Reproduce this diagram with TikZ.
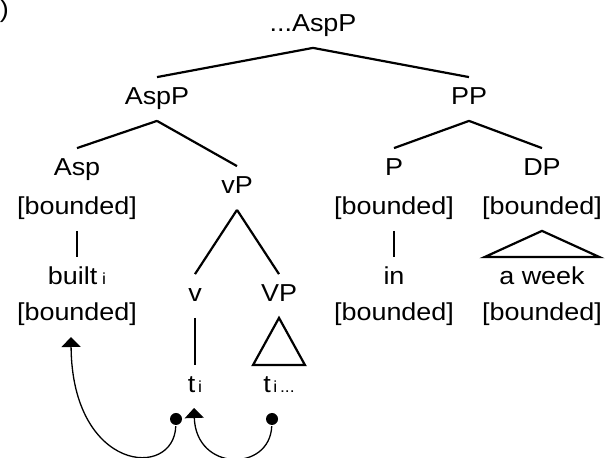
\documentclass[tikz,border=0pt]{standalone}
\usepackage{fontspec}
\setmainfont{Liberation Sans}[FakeStretch=1.1]
\usetikzlibrary{arrows.meta}
\newcommand{\ix}[1]{{\fontsize{8pt}{10pt}\selectfont #1}}

\begin{document}
\begin{tikzpicture}[x=0.5pt,y=-0.5pt,line width=1.1pt,
cat/.style={inner xsep=0pt, inner ysep=4.5pt, text height=8.8pt, text depth=3pt, font=\fontsize{12.25pt}{14pt}\selectfont},
dot/.style={circle, fill=black, inner sep=0pt, minimum size=6pt},
mov/.style={line width=0.65pt, -{Triangle[width=9.5pt,length=5pt]}}]

\useasboundingbox (0,0) rectangle (605,458);

\draw (10,18) node[cat,anchor=base east] (Lbl) {)};
\draw (313,26) node[cat] (Top) {...AspP};
\draw (157,99) node[cat] (AspP) {AspP};
\draw (469,99) node[cat] (PP) {PP};
\draw (77,170) node[cat] (Asp) {Asp};
\draw (77,209) node[cat] (AspF) {[bounded]};
\draw (237,188) node[cat] (vP) {vP};
\draw (394,170) node[cat] (P) {P};
\draw (394,209) node[cat] (PF) {[bounded]};
\draw (542,170) node[cat] (DP) {DP};
\draw (542,209) node[cat] (DPF) {[bounded]};
\draw (77,279) node[cat] (Built) {built\ix{ i}};
\draw (77,315) node[cat] (BuiltF) {[bounded]};
\draw (195,296) node[cat] (v) {v};
\draw (279,296) node[cat] (VP) {VP};
\draw (394,279) node[cat] (In) {in};
\draw (394,315) node[cat] (InF) {[bounded]};
\draw (542,279) node[cat] (Week) {a week};
\draw (542,315) node[cat] (WeekF) {[bounded]};
\draw (195,387) node[cat] (ti) {t\ix{\,i}};
\draw (279,387) node[cat] (tiVP) {t\ix{\,i\,...}};

% movement traces
\draw (176,419) node[dot] (D1) {};
\draw (272,419) node[dot] (D2) {};
\coordinate (Up1) at (71,337);
\coordinate (Up2) at (194,408);

\draw (Top.south)--(AspP.north);
\draw (Top.south)--(PP.north);
\draw (AspP.south)--(Asp.north);
\draw (AspP.south)--(vP.north);
\draw (PP.south)--(P.north);
\draw (PP.south)--(DP.north);
\draw (vP.south)--(v.north);
\draw (vP.south)--(VP.north);
\draw (AspF.south)--(Built.north);
\draw (PF.south)--(In.north);
\draw (v.south)--(ti.north);

% roof triangles
\draw (VP.south)--([xshift=-13pt]tiVP.north)--([xshift=13pt]tiVP.north)--cycle;
\draw (DPF.south)--([xshift=-28.75pt]Week.north)--([xshift=28.75pt]Week.north)--cycle;

\draw[mov] (D1) .. controls (174,480) and (72,472) .. (Up1);
\draw[mov] (D2) .. controls (270,472) and (196,472) .. (Up2);

\end{tikzpicture}
\end{document}
